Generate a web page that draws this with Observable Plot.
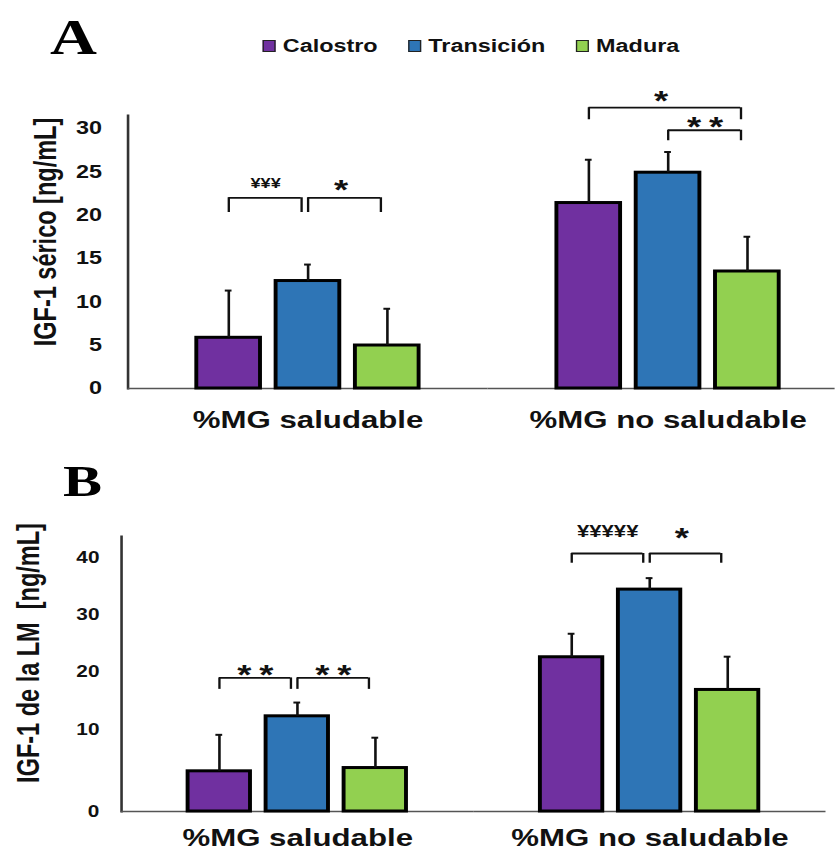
<!DOCTYPE html>
<html>
<head>
<meta charset="utf-8">
<script src="https://cdn.jsdelivr.net/npm/d3@7"></script>
<script src="https://cdn.jsdelivr.net/npm/@observablehq/plot@0.6"></script>
<style>
  html, body { margin: 0; padding: 0; background: #fff; overflow: hidden; }
  /* the whole figure is drawn narrow and widened horizontally */
  #fig { position: relative; width: 642px; transform: scaleX(1.3); transform-origin: 0 0;
         font-family: "Liberation Sans", Arial, Helvetica, sans-serif; color: #111; }
  .head { position: relative; }
  .letter { position: absolute; margin: 0; font-family: "Liberation Serif", "Times New Roman", serif;
            font-weight: bold; color: #000; }
  .legend { position: absolute; left: 201.5px; top: 37px; display: flex; gap: 23px;
            font-weight: bold; font-size: 18px; line-height: 18px; }
  .legend .item { display: flex; align-items: center; }
  .legend .sw { width: 10px; height: 12px; box-sizing: border-box; border: 1.5px solid #222; margin-right: 6px; }
  .stars text { letter-spacing: 6px; }
  svg { display: block; }
</style>
</head>
<body>
<div id="fig"></div>
<script>
// Stages of lactation and maternal body-fat groups
const stages = ["Calostro", "Transición", "Madura"];
const groups = ["%MG saludable", "%MG no saludable"];
const stageColors = ["#7030a0", "#2e75b6", "#92d050"];

// A: IGF-1 sérico [ng/mL], mean and SD per stage
const serumSaludableMean = [5.85, 12.4, 4.96];
const serumSaludableSD = [5.45, 1.9, 4.24];
const serumNoSaludableMean = [21.4, 24.9, 13.5];
const serumNoSaludableSD = [5.0, 2.4, 4.0];
const serumTicks = [0, 5, 10, 15, 20, 25, 30];

// B: IGF-1 de la LM [ng/mL], mean and SD per stage
const milkSaludableMean = [4.9, 12.3, 5.3];
const milkSaludableSD = [4.45, 2.4, 3.7];
const milkNoSaludableMean = [22.6, 34.4, 16.9];
const milkNoSaludableSD = [4.1, 2.0, 5.8];
const milkTicks = [0, 10, 20, 30, 40];

// significance brackets: bracket level, leg end and label level (data units)
const serumBrackets = [
  {group: groups[0], from: "Calostro", to: "Transición", y: 22.0, leg: 20.3, label: "¥¥¥", labelY: 23.65},
  {group: groups[0], from: "Transición", to: "Madura", y: 22.0, leg: 20.3, label: "*", labelY: 23.65},
  {group: groups[1], from: "Calostro", to: "Madura", y: 32.4, leg: 31.0, label: "*", labelY: 34.0},
  {group: groups[1], from: "Transición", to: "Madura", y: 29.8, leg: 28.6, label: "**", labelY: 30.9}
];
const milkBrackets = [
  {group: groups[0], from: "Calostro", to: "Transición", y: 19.0, leg: 17.0, label: "**", labelY: 20.6},
  {group: groups[0], from: "Transición", to: "Madura", y: 19.0, leg: 17.0, label: "**", labelY: 20.6},
  {group: groups[1], from: "Calostro", to: "Transición", y: 40.7, leg: 39.0, label: "¥¥¥¥¥", labelY: 44.5},
  {group: groups[1], from: "Transición", to: "Madura", y: 40.7, leg: 39.0, label: "*", labelY: 44.5}
];

const FONT = '"Liberation Sans", Arial, Helvetica, sans-serif';
const WIDTH = 642;
const PAD_IN = 0.2, PAD_OUT = 0.85;
const INK = "#111";

function rowsOf(means, sds) {
  return groups.flatMap((g, gi) => stages.map((s, si) => ({group: g, stage: s, mean: means[gi][si], sd: sds[gi][si]})));
}

function panel(o) {
  const rows = rowsOf(o.means, o.sds);
  const facetW = (o.fxRange[1] - o.fxRange[0]) / groups.length;
  const step = facetW / (stages.length - PAD_IN + 2 * PAD_OUT);
  const bw = step * (1 - PAD_IN);
  const gap = 5;

  const labelMarks = o.brackets.map((b) => {
    const i = stages.indexOf(b.from), j = stages.indexOf(b.to);
    const mid = (i + j) / 2;
    const anchor = stages[Math.floor(mid)];
    const star = b.label.includes("*");
    const size = star ? 28 : o.yenSize;
    return Plot.text([b], {
      fx: "group", x: () => anchor, y: "labelY", text: "label",
      dx: (mid - Math.floor(mid)) * step - gap / 2 + (star && b.label.length > 1 ? 3 : 0),
      dy: star ? 0.24 * size : 0,
      fontSize: size, lineAnchor: "middle", fill: INK,
      className: star ? "stars" : "yen"
    });
  });

  return Plot.plot({
    width: WIDTH, height: o.height,
    marginTop: o.marginTop, marginBottom: o.marginBottom, marginLeft: o.fxRange[0], marginRight: 0,
    style: {fontFamily: FONT, fontWeight: "bold", color: INK, background: "transparent"},
    fx: {domain: groups, range: o.fxRange, padding: 0, label: null},
    x: {domain: stages, paddingInner: PAD_IN, paddingOuter: PAD_OUT, axis: null},
    y: o.y,
    color: {domain: stages, range: stageColors},
    marks: [
      Plot.frame({anchor: "left", facet: "super", stroke: "#333", strokeWidth: 2}),
      Plot.ruleY([0], {stroke: "#555", strokeWidth: 1.5}),
      Plot.barY(rows, {fx: "group", x: "stage", y: "mean", fill: "stage", stroke: "#000", strokeWidth: 3}),
      Plot.ruleX(rows, {fx: "group", x: "stage", y1: "mean", y2: (d) => d.mean + d.sd, stroke: INK, strokeWidth: 2}),
      Plot.tickY(rows, {fx: "group", x: "stage", y: (d) => d.mean + d.sd, inset: (bw - 5.5) / 2, stroke: INK, strokeWidth: 2}),
      Plot.ruleY(o.brackets, {fx: "group", x1: "from", x2: "to", y: "y", insetLeft: bw / 2, insetRight: bw / 2 + gap, stroke: INK, strokeWidth: 1.8}),
      Plot.ruleX(o.brackets, {fx: "group", x: "from", y1: "leg", y2: "y", stroke: INK, strokeWidth: 1.8}),
      Plot.ruleX(o.brackets, {fx: "group", x: "to", y1: "leg", y2: "y", dx: -gap, stroke: INK, strokeWidth: 1.8}),
      ...labelMarks,
      Plot.axisY({ticks: o.ticks, tickSize: 0, tickPadding: o.tickPadding, fontSize: o.tickSize, fontFamily: o.tickFont, label: null, fill: INK}),
      Plot.axisFx({anchor: "bottom", tickSize: 0, tickPadding: o.fxPadding, fontSize: 24, label: null, fill: INK}),
      Plot.text([o.title], {frameAnchor: "left", facet: "super", rotate: -90, textAnchor: "middle", dx: o.titleDx, dy: o.titleDy, fontSize: 23.5, lineAnchor: "middle", fill: INK})
    ]
  });
}

const fig = document.getElementById("fig");

// header A: panel letter and legend
const headA = document.createElement("div");
headA.className = "head";
headA.style.height = "80px";
headA.innerHTML = `<div class="letter" style="left:38.5px;top:12px;font-size:50px;line-height:50px">A</div>`;
const legend = document.createElement("div");
legend.className = "legend";
stages.forEach((s, i) => {
  const item = document.createElement("div");
  item.className = "item";
  item.innerHTML = `<span class="sw" style="background:${stageColors[i]}"></span><span>${s}</span>`;
  legend.append(item);
});
headA.append(legend);
fig.append(headA);

fig.append(panel({
  means: [serumSaludableMean, serumNoSaludableMean],
  sds: [serumSaludableSD, serumNoSaludableSD],
  brackets: serumBrackets,
  height: 355, marginTop: 35, marginBottom: 47,
  fxRange: [97, 652],
  y: {domain: [0, 30], range: [308, 48]},
  ticks: serumTicks, tickSize: 18, tickFont: FONT, tickPadding: 20,
  fxPadding: 22, yenSize: 14,
  title: "IGF-1 sérico [ng/mL]", titleDx: -62.8, titleDy: -20
}));

// header B: panel letter
const headB = document.createElement("div");
headB.className = "head";
headB.style.height = "70px";
headB.innerHTML = `<div class="letter" style="left:48.5px;top:24px;font-size:45px;line-height:45px">B</div>`;
fig.append(headB);

fig.append(panel({
  means: [milkSaludableMean, milkNoSaludableMean],
  sds: [milkSaludableSD, milkNoSaludableSD],
  brackets: milkBrackets,
  height: 346, marginTop: 31, marginBottom: 40,
  fxRange: [92.7, 635.8],
  // the axis below 10 is drawn with a wider spacing than above it
  y: {type: "linear", domain: [0, 10, 40], range: [306, 224, 52]},
  ticks: milkTicks, tickSize: 16, tickFont: FONT, tickPadding: 17,
  fxPadding: 17, yenSize: 17,
  title: "IGF-1 de la LM  [ng/mL]", titleDx: -70.8, titleDy: -21
}));
</script>
</body>
</html>
